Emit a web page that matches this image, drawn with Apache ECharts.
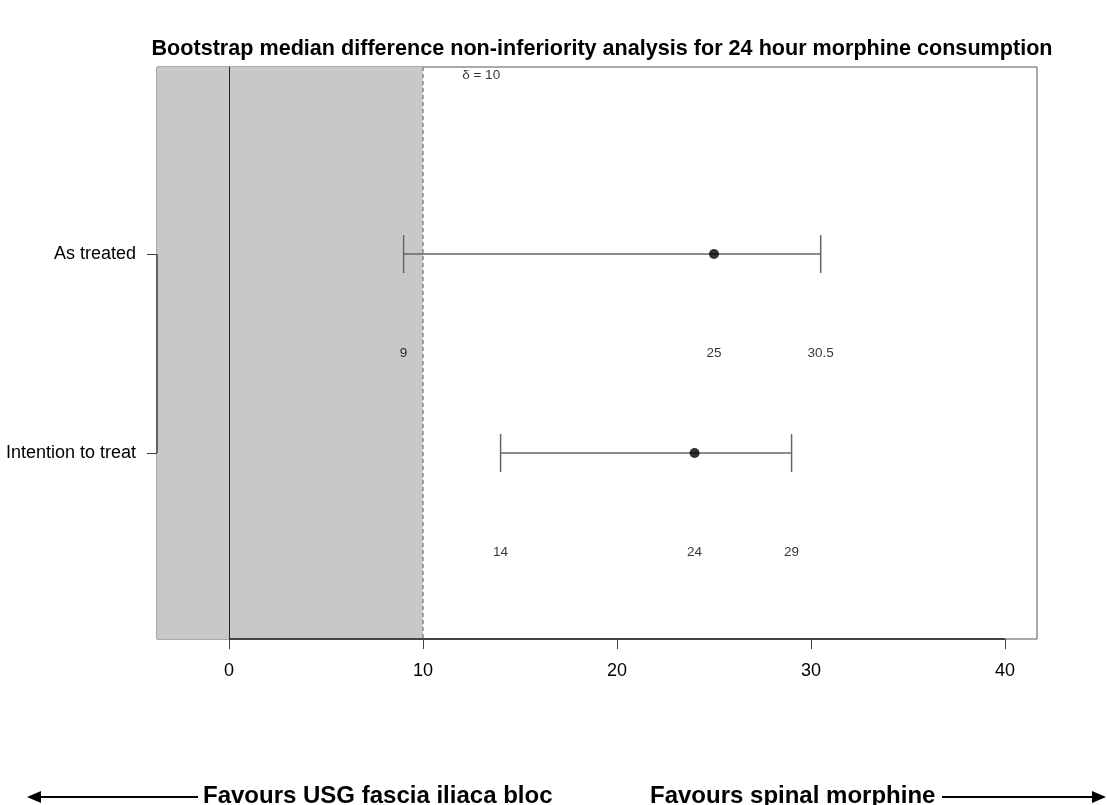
<!DOCTYPE html>
<html>
<head>
<meta charset="utf-8">
<script src="https://cdn.jsdelivr.net/npm/echarts@6/dist/echarts.min.js"></script>
<style>html,body{margin:0;padding:0;background:#fff;}#c{width:1107px;height:805px;}</style>
</head>
<body>
<div id="c"></div>
<script>
// ---- data ----
const categories = ["As treated", "Intention to treat"];
const medians = [25, 24];
const lowerCI = [9, 14];
const upperCI = [30.5, 29];
const delta = 10;
const xTicks = [0, 10, 20, 30, 40];
const titleText = "Bootstrap median difference non-inferiority analysis for 24 hour morphine consumption";
const leftNote = "Favours USG fascia iliaca bloc";
const rightNote = "Favours spinal morphine";

const XMIN = -3.71, XMAX = 41.65;
const YMIN = -0.94, YMAX = 1.935;
const FONT = "'Liberation Sans', Arial, Helvetica, sans-serif";

const chart = echarts.init(document.getElementById('c'), null, {renderer: 'canvas'});

const errData = categories.map((c, i) => [i, lowerCI[i], upperCI[i]]);
const ptData = categories.map((c, i) => [medians[i], i]);
const valLabels = [];
categories.forEach((c, i) => {
  [lowerCI[i], medians[i], upperCI[i]].forEach(v => valLabels.push([v, i + 0.5]));
});

const option = {
  backgroundColor: '#fff',
  animation: false,
  title: {
    text: titleText, left: 597, top: 33, textAlign: 'center',
    textStyle: {fontFamily: FONT, fontWeight: 'bold', fontSize: 21.6, color: '#000'}
  },
  grid: {left: 157, right: 70, top: 67, bottom: 166, show: true, borderColor: '#555', borderWidth: 1, backgroundColor: '#fff'},
  xAxis: {
    type: 'value', min: XMIN, max: XMAX,
    splitLine: {show: false},
    axisLine: {show: false, onZero: false},
    axisTick: {show: true, customValues: xTicks, length: 10, lineStyle: {color: '#444'}},
    axisLabel: {customValues: xTicks, margin: 23, fontFamily: FONT, fontSize: 18, color: '#000'}
  },
  yAxis: {
    type: 'value', min: YMIN, max: YMAX, inverse: true,
    splitLine: {show: false},
    axisLine: {show: false, onZero: false},
    axisTick: {show: true, customValues: [0, 1], length: 10, lineStyle: {color: '#444'}},
    axisLabel: {customValues: [0, 1], margin: 21, fontFamily: FONT, fontSize: 18, color: '#000',
      formatter: v => categories[Math.round(v)] || ''}
  },
  graphic: [
    {type: 'line', shape: {x1: 38, y1: 797, x2: 198, y2: 797}, style: {stroke: '#000', lineWidth: 2}},
    {type: 'polygon', shape: {points: [[27, 797], [41, 791], [41, 803]]}, style: {fill: '#000'}},
    {type: 'text', x: 203, y: 796, style: {text: leftNote, font: 'bold 24px ' + FONT, fill: '#000', textVerticalAlign: 'middle'}},
    {type: 'text', x: 650, y: 796, style: {text: rightNote, font: 'bold 24px ' + FONT, fill: '#000', textVerticalAlign: 'middle'}},
    {type: 'line', shape: {x1: 942, y1: 797, x2: 1094, y2: 797}, style: {stroke: '#000', lineWidth: 2}},
    {type: 'polygon', shape: {points: [[1106, 797], [1092, 791], [1092, 803]]}, style: {fill: '#000'}}
  ],
  series: [
    {
      type: 'line', data: [], silent: true,
      markArea: {silent: true, itemStyle: {color: '#c8c8c8'}, data: [[{xAxis: XMIN}, {xAxis: delta}]]},
      markLine: {
        silent: true, symbol: 'none', label: {show: false},
        data: [
          {xAxis: 0, lineStyle: {color: '#222', type: 'solid', width: 1}},
          {xAxis: delta, lineStyle: {color: '#888', type: [4, 3], width: 1.5}}
        ]
      }
    },
    {
      type: 'line', clip: false, symbol: 'none', silent: true,
      data: [[xTicks[0], YMAX], [xTicks[xTicks.length - 1], YMAX]],
      lineStyle: {color: '#444', width: 2}
    },
    {
      type: 'line', clip: false, symbol: 'none', silent: true,
      data: [[XMIN, 0], [XMIN, categories.length - 1]],
      lineStyle: {color: '#444', width: 1.5}
    },
    {
      type: 'custom', silent: true,
      data: errData,
      encode: {x: [1, 2], y: 0},
      renderItem: function (params, api) {
        const y = api.value(0), lo = api.value(1), hi = api.value(2);
        const p1 = api.coord([lo, y]), p2 = api.coord([hi, y]);
        const cap = 19;
        const st = {stroke: '#666', lineWidth: 1.5};
        return {type: 'group', children: [
          {type: 'line', shape: {x1: p1[0], y1: p1[1], x2: p2[0], y2: p2[1]}, style: st},
          {type: 'line', shape: {x1: p1[0], y1: p1[1] - cap, x2: p1[0], y2: p1[1] + cap}, style: st},
          {type: 'line', shape: {x1: p2[0], y1: p2[1] - cap, x2: p2[0], y2: p2[1] + cap}, style: st}
        ]};
      }
    },
    {
      type: 'scatter', data: ptData, symbol: 'circle', symbolSize: 10, silent: true,
      itemStyle: {color: '#000'}
    },
    {
      type: 'scatter', data: valLabels, symbolSize: 0, silent: true,
      label: {show: true, position: 'inside', formatter: p => String(p.value[0]),
        fontFamily: FONT, fontSize: 13.5, color: '#000'}
    },
    {
      type: 'scatter', data: [[13.0, -0.9]], symbolSize: 0, silent: true,
      label: {show: true, position: 'inside', formatter: () => '\u03b4 = ' + delta,
        fontFamily: FONT, fontSize: 13.5, color: '#000'}
    }
  ]
};
chart.setOption(option);
</script>
</body>
</html>
